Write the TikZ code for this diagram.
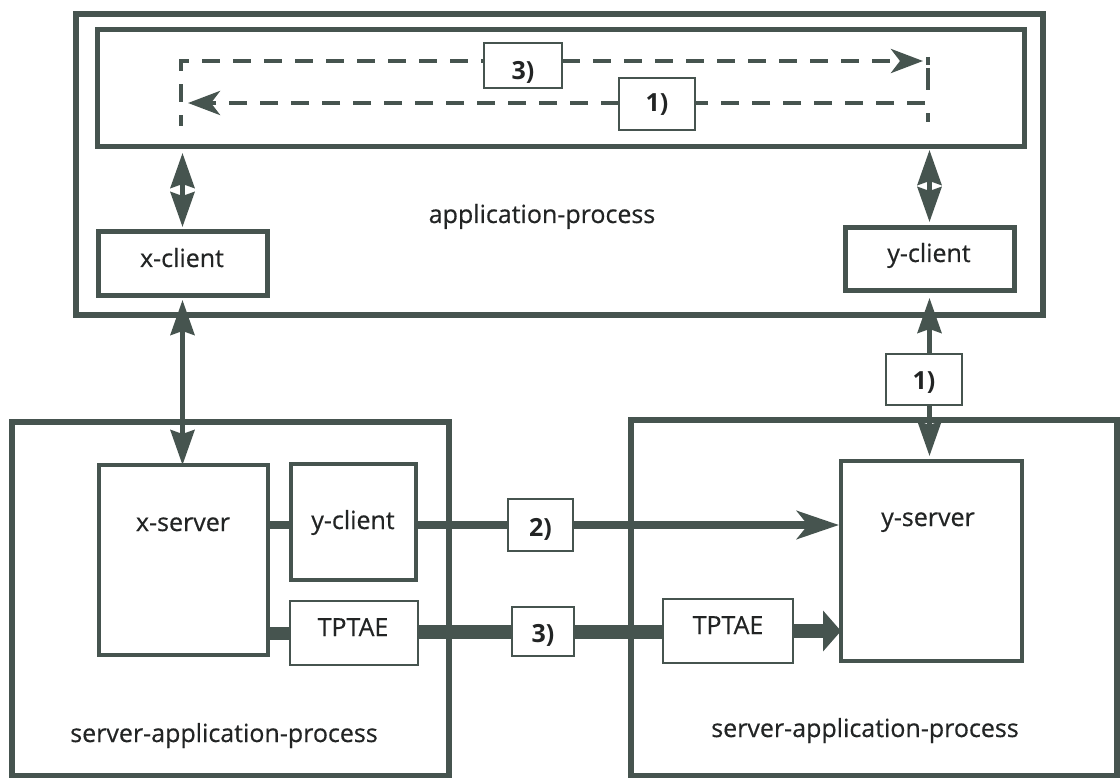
\documentclass[tikz,border=0pt]{standalone}
\usepackage{fontspec}
\setmainfont{Open Sans}[UprightFeatures={FakeBold=0.5}]
\usetikzlibrary{arrows.meta}
\definecolor{ink}{RGB}{70,84,79}
\definecolor{txt}{RGB}{34,36,36}
\tikzset{
  box/.style={draw=ink, fill=white, rectangle, inner sep=0pt, outer sep=0pt},
  heavy/.style={box, line width=6pt},
  frame/.style={box, line width=5pt},
  unit/.style={box, line width=4.5pt},
  slim/.style={box, line width=2pt},
  tag/.style={box, line width=1.8pt},
  lbl/.style={anchor=base, inner sep=0pt, text=txt, font=\fontsize{25}{30}\selectfont},
  numlbl/.style={lbl, font=\fontsize{25}{30}\selectfont\bfseries},
  link/.style={draw=ink, line width=4.5pt},
  dashlink/.style={draw=ink, line width=4.5pt, dash pattern=on 18pt off 13pt},
  medlink/.style={draw=ink, line width=7.5pt},
  fatlink/.style={draw=ink, line width=14pt},
  bothtips/.style={{Stealth[length=35pt,width=24pt,inset=4pt]}-{Stealth[length=35pt,width=24pt,inset=4pt]}},
  uptip/.style={-{Stealth[length=35pt,width=24pt,inset=4pt]}},
  dashtip/.style={-{Stealth[length=32pt,width=24pt,inset=9pt]}},
  medtip/.style={-{Stealth[length=42pt,width=28pt,inset=11pt]}},
  fattip/.style={-{Triangle[length=18pt,width=40pt]}}
}
\begin{document}
\begin{tikzpicture}[x=1pt,y=-1pt]
\useasboundingbox (0,0) rectangle (1120,778);

% application process with its dialogue area
\node[heavy, minimum width=967pt, minimum height=301pt] (ap) at (559.5,164.5) {};
\node[frame, minimum width=927pt, minimum height=117pt] (dlg) at (561,88.5) {};
\node[frame, minimum width=169pt, minimum height=64pt] (xcl) at (182.5,264) {};
\node[frame, minimum width=169pt, minimum height=63pt] (ycla) at (929.5,259.5) {};

% the two server application processes
\node[heavy, minimum width=437pt, minimum height=354pt] (sapl) at (230.5,599) {};
\node[heavy, minimum width=486pt, minimum height=356pt] (sapr) at (874,598) {};
\node[unit, minimum width=169pt, minimum height=190pt] (xsrv) at (183.5,560) {};
\node[unit, minimum width=125pt, minimum height=116pt] (yclb) at (353.5,522) {};
\node[slim, minimum width=128pt, minimum height=64pt] (tpl) at (354,633) {};
\node[unit, minimum width=181pt, minimum height=200pt] (ysrv) at (931.5,561) {};
\node[slim, minimum width=130pt, minimum height=64pt] (tpr) at (728,631) {};

% step tags
\node[tag, minimum width=78pt, minimum height=45pt] (t3a) at (523,65.5) {};
\node[tag, minimum width=76pt, minimum height=52pt] (t1a) at (657,104) {};
\node[tag, minimum width=65pt, minimum height=52pt] (t2) at (540.5,525) {};
\node[tag, minimum width=62pt, minimum height=49pt] (t3b) at (543,631.5) {};
\node[tag, minimum width=76pt, minimum height=51pt] (t1b) at (924,379.5) {};

% dashed exchange inside the dialogue area
\coordinate (lt) at (181,61);
\coordinate (lb) at (181,126);
\coordinate (la) at (188,103);
\coordinate (rt) at (928,57);
\coordinate (rm) at (928,90);
\coordinate (rb) at (928,122);
\coordinate (rc) at (928,103);
\coordinate (ra) at (923,61);
\draw[dashlink, dash phase=7pt] (lb) -- (lt) -- (lt -| t3a.west);
\draw[dashlink, dashtip] (t3a.east |- lt) -- (ra);
\draw[dashlink, dash pattern=on 8pt off 3pt on 40pt] (rt) -- (rm);
\draw[dashlink, dash phase=9pt] (rb) -- (rc) -- (rc -| t1a.east);
\draw[dashlink, dashtip] (t1a.west |- rc) -- (la);

% clients to the dialogue area
\draw[link, bothtips, shorten <=6pt, shorten >=5pt] (dlg.south -| xcl.north) -- (xcl.north);
\draw[link, bothtips, shorten <=3pt, shorten >=6pt] (dlg.south -| ycla.north) -- (ycla.north);

% x-client to x-server
\draw[link, bothtips, shorten <=4pt] (xcl.south) -- (xcl.south |- xsrv.north);

% y-client to y-server through step 1)
\draw[link, uptip, shorten >=7pt] (ycla.south |- t1b.north) -- (ycla.south);
\draw[link, uptip, shorten >=5pt] (ycla.south |- t1b.south) -- (ycla.south |- ysrv.north);

% step 2)
\draw[medlink] (t2.west -| xsrv.east) -- (t2.west -| yclb.west);
\draw[medlink] (t2.west -| yclb.east) -- (t2.west);
\draw[medlink, medtip, shorten >=2pt] (t2.east) -- (t2.east -| ysrv.west);

% step 3)
\draw[fatlink, line width=13pt] (tpl.west -| xsrv.east) -- (tpl.west);
\draw[fatlink] (t3b.west -| tpl.east) -- (t3b.west);
\draw[fatlink] (t3b.east) -- (t3b.east -| tpr.west);
\draw[fatlink, fattip] (tpr.east) -- (tpr.east -| ysrv.west);

% labels
\node[lbl] (lap) at (542,223) {application-process};
\node[lbl] (lxcl) at (182,267) {x-client};
\node[lbl] (lycla) at (929,262) {y-client};
\node[lbl] (lxsrv) at (183,531) {x-server};
\node[lbl] (lyclb) at (353,529) {y-client};
\node[lbl] (ltpl) at (353,636) {TPTAE};
\node[lbl] (ltpr) at (728,634) {TPTAE};
\node[lbl] (lysrv) at (928,526) {y-server};
\node[lbl] (lsapl) at (224,742) {server-application-process};
\node[lbl] (lsapr) at (865,737) {server-application-process};
\node[numlbl] (n3a) at (523,80) {3)};
\node[numlbl] (n1a) at (657,112) {1)};
\node[numlbl] (n2) at (540.5,536) {2)};
\node[numlbl] (n3b) at (543,642) {3)};
\node[numlbl] (n1b) at (924,389) {1)};
\end{tikzpicture}
\end{document}
